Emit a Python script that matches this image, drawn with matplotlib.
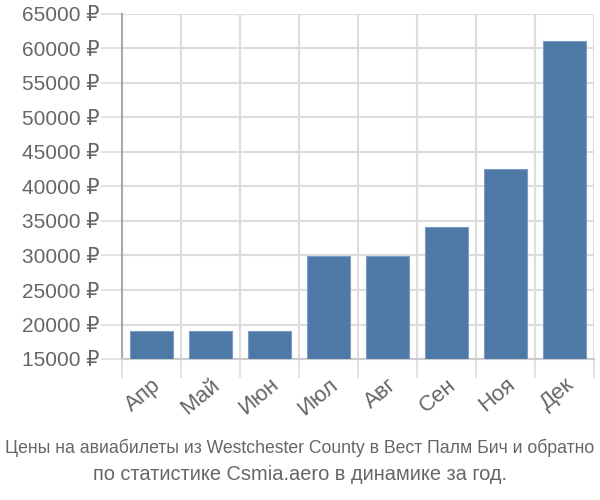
import numpy as np
import matplotlib
matplotlib.use('Agg')
import matplotlib.pyplot as plt
from matplotlib.ticker import FuncFormatter

plt.rcParams['font.family'] = ['Liberation Sans', 'DejaVu Sans']

months = ['Апр', 'Май', 'Июн', 'Июл', 'Авг', 'Сен', 'Ноя', 'Дек']
prices = [19000, 19000, 19000, 30000, 30000, 34100, 42500, 61100]
y_ticks = [15000, 20000, 25000, 30000, 35000, 40000, 45000, 50000, 55000, 60000, 65000]

title_1 = 'Цены на авиабилеты из Westchester County в Вест Палм Бич и обратно'
title_2 = 'по статистике Csmia.aero в динамике за год.'

fig = plt.figure(figsize=(6, 5), dpi=100)
ax = fig.add_axes([0.203, 0.282, 0.787, 0.690])

x = np.arange(len(months))
base = y_ticks[0]
ax.bar(x, np.array(prices) - base, bottom=base, width=0.72,
       color='#4e79a7', edgecolor='#7a9cc6', linewidth=0.8, zorder=3)

ax.set_xlim(-0.5, len(months) - 0.5)
ax.set_ylim(y_ticks[0], y_ticks[-1])
ax.set_yticks(y_ticks)
ax.yaxis.set_major_formatter(FuncFormatter(lambda v, p: f'{int(v)} ₽'))

ax.set_xticks(x)
ax.set_xticklabels(months, rotation=40, ha='right', rotation_mode='anchor')
ax.set_xticks(np.arange(len(months) + 1) - 0.5, minor=True)

ax.grid(False)
ax.yaxis.grid(True, color='#dddddd', linewidth=1.5, zorder=0)
ax.xaxis.grid(True, which='minor', color='#dddddd', linewidth=1.5, zorder=0)

ax.tick_params(axis='y', length=15, width=1.2, color='#dddddd',
               labelsize=15, labelcolor='#666666', pad=1)
ax.tick_params(axis='x', which='major', length=0, labelsize=16,
               labelcolor='#666666', pad=11)
ax.tick_params(axis='x', which='minor', length=14, width=1.2, color='#dddddd')

for side in ['top', 'right']:
    ax.spines[side].set_visible(False)
ax.spines['left'].set_color('#aaaaaa')
ax.spines['left'].set_linewidth(1.5)
ax.spines['bottom'].set_color('#cccccc')
ax.spines['bottom'].set_linewidth(1.5)

fig.text(0.5, 0.105, title_1, ha='center', va='center', fontsize=12.7,
         color='#666666')
fig.text(0.5, 0.05, title_2, ha='center', va='center', fontsize=14.4,
         color='#666666')

fig.savefig('out.png', dpi=100)
